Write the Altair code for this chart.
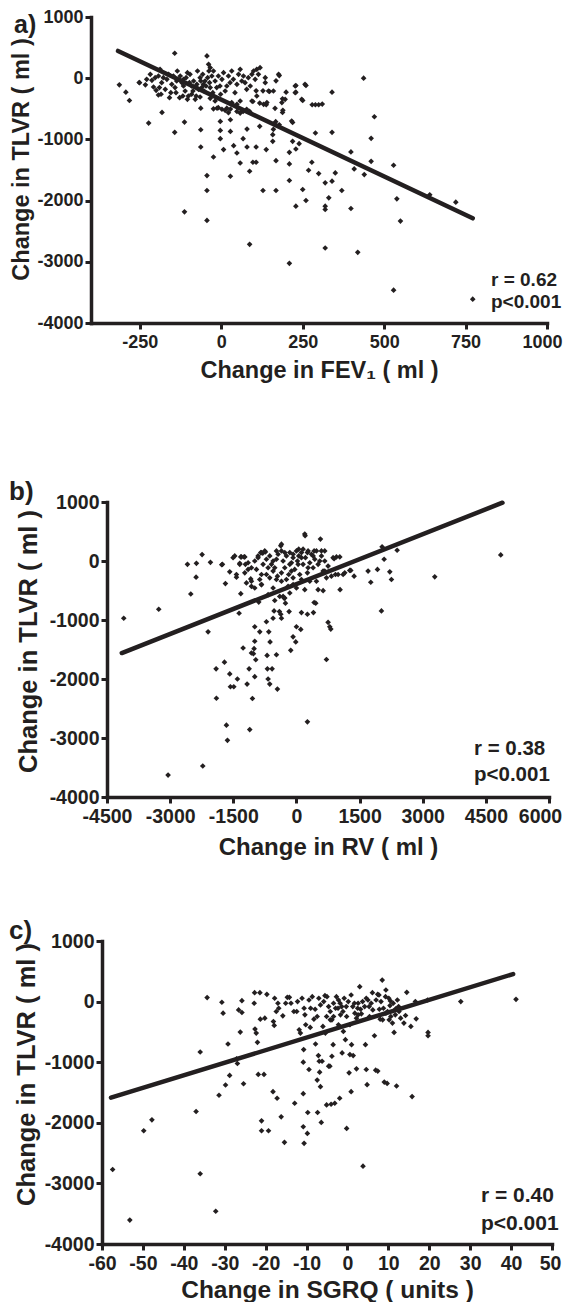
import altair as alt
import pandas as pd

FONT = "Liberation Sans"
INK = "#231f20"

# ---------------- data ----------------
# a) change in FEV1 (ml) vs change in TLVR (ml)
a_points = [
    (-313, -109), (-293, -228), (-282, -364), (-252, -71), (-233, -109), (-223, -733), (-182, -559),
    (-143, -885), (-113, -717), (-113, -2183), (-143, 407), (-63, -489), (-63, -842), (-63, -1124),
    (-44, 364), (-44, -1591), (-44, -1835), (-44, -2324), (-24, -1287), (-24, -500), (-3, -706),
    (-3, -853), (-3, -988), (7, -1167), (28, -505), (28, -679), (28, -869), (28, -1602), (38, -1102),
    (48, -1222), (58, -1385), (58, -570), (67, -988), (79, -831), (79, -1124), (87, -1520), (87, -2715),
    (97, -1374), (107, -1374), (107, -1124), (118, -787), (128, -1835), (138, -1167), (158, -1032),
    (158, -923), (168, -1347), (168, -1835), (178, -760), (188, -559), (209, -3025), (209, -1211),
    (209, -1672), (209, -1401), (219, -1032), (219, -722), (229, -2091), (229, -1157), (239, -1070),
    (250, -1819), (260, -1998), (268, -1504), (278, -1374), (289, -896), (299, -1558), (319, -1710),
    (319, -2091), (319, -2145), (319, -2775), (330, -1955), (340, -885), (340, -1683), (350, -1548),
    (370, -1835), (398, -1205), (398, -2129), (408, -1482), (419, -2845), (439, -1575), (460, -983),
    (460, -1358), (470, -630), (529, -1423), (539, -1971), (550, -2335), (529, -3464), (640, -1906),
    (720, -2025), (772, -3611), (437, 0), (340, -228), (279, -434), (289, -434), (299, -434),
    (310, -423), (250, -364), (260, -119), (229, -119), (229, -228), (188, -337), (199, -228),
    (178, 43), (168, -43), (148, -217), (138, -434), (128, -206), (107, -206), (118, -407), (97, -380),
    (87, -543), (67, -543), (48, -543), (17, -489), (-13, -489),
    (-213, -35), (-203, 9), (-208, -144), (-193, 36), (-188, 145), (-183, -73), (-178, 9), (-193, -274),
    (-185, -263), (-155, -236), (-135, 118), (-126, 36), (-128, -318), (-121, -73), (-116, -18),
    (-111, -209), (-104, 91), (-101, -291), (-96, 63), (-91, -127), (-85, -46), (-80, -345), (-73, 118),
    (-65, 9), (-60, -154), (-55, -100), (-50, -46), (-39, 227), (-34, 172), (-34, -154), (-29, 36),
    (-24, 118), (-19, -46), (-9, 36), (-4, -127), (2, -18), (7, 91), (12, -209), (22, 36), (27, -73),
    (32, 118), (37, -18), (42, -236), (53, 63), (58, 145), (63, -46), (68, 36), (78, -182), (83, 9),
    (94, 63), (99, 118), (109, 145), (119, 172), (135, 9), (135, -73), (145, -209), (160, -209), (176, 63),
    (-167, -18), (-162, 63), (-152, -100), (-147, 36), (-142, -154), (-137, -46), (-116, -127), (-108, 9),
    (-98, -73), (-87, -209), (-75, -100), (-70, -182), (-63, -46), (-57, 63), (-53, -209), (-47, -127),
    (-42, 9), (-38, 118), (-36, -73), (-26, -236), (-14, -154), (-2, -263), (17, -127), (48, -100),
    (73, -73), (89, -127), (104, -18), (114, 63), (-251, -73), (-229, -18), (-218, 63), (-200, -198),
    (-190, -154), (-172, -182), (-159, -318), (-139, -236), (-118, -291), (-104, -345), (-91, -263),
    (-77, -291), (-65, -307), (-34, -329), (-19, -372), (-9, -481), (2, -508), (12, -525), (22, -563),
    (32, -399), (48, -427), (58, -372), (78, -508), (94, -372), (109, -291), (130, -427), (140, -399),
    (186, -399), (196, -345), (227, -127), (257, -100), (247, -345), (227, -236), (165, -492),
    (189, -525), (167, -710), (160, -835), (216, -699),
]
a_fit_x = [-317, 772]
a_fit_y = [445, -2289]

# b) change in RV (ml) vs change in TLVR (ml)
b_points = [
    (-4102, -971), (-3271, -817), (-3049, -3628), (-2589, -57), (-2510, -560), (-2384, -274), (-2376, -40),
    (-2241, 109), (-2225, -3474), (-2099, -1200), (-2043, -23), (-1908, -1828), (-1901, -2326), (-1774, -63),
    (-1710, -1714), (-1687, -383), (-1663, -2783), (-1639, -3040), (-1584, -183), (-1584, -1914),
    (-1568, -2131), (-1505, 57), (-1488, -2131), (-1425, -274), (-1402, -2000), (-1362, -886), (-1346, -40),
    (-1322, -554), (-1322, 69), (-1267, -1474), (-1243, 69), (-1212, -57), (-1172, -2086), (-1148, -143),
    (-1124, -1828), (-1109, -2857), (-1085, -303), (-1069, -1560), (-1045, -2331), (-1022, -1571),
    (-1006, -1486), (-990, -1114), (-990, -1360), (-990, -1960), (-966, -1674), (-911, 86), (-895, -697),
    (-871, -1200), (-847, 143), (-831, -400), (-800, 131), (-737, 154), (-713, -1029), (-697, -1600),
    (-689, -1828), (-673, -2000), (-657, -1200), (-634, -2086), (-626, -1371), (-578, -1828), (-555, -971),
    (-531, -846), (-515, -669), (-475, -1589), (-452, -2171), (-404, -857), (-372, -903), (-372, 257),
    (-356, -971), (-317, -600), (-293, -629), (-261, -714), (-174, -857), (-135, -1514), (-80, -1286),
    (-16, -1371), (0, -1114), (103, -1160), (119, -874), (206, 429), (261, -903), (261, -2726), (404, -874),
    (420, -703), (459, -714), (570, 371), (634, -503), (673, 171), (713, -1669), (752, -1040), (792, -1114),
    (816, -1154), (895, 40), (927, -229), (1030, 69), (1037, -486), (1109, -229), (1291, -160), (1370, -257),
    (1702, -171), (1766, -360), (1925, -143), (2019, -846), (2035, 240), (2083, 29), (2218, -183),
    (2257, -314), (2392, 183), (3286, -269), (4854, 103),
    (-1307, 69), (-1227, 69), (-1346, -57), (-1148, -29), (-1069, -114), (-990, 0), (-911, 57), (-831, 143),
    (-752, 171), (-713, 29), (-634, 86), (-594, -57), (-554, -171), (-475, 29), (-436, 114), (-356, 171),
    (-356, 286), (-317, 0), (-277, -114), (-238, 86), (-182, -229), (-158, 143), (-119, -29), (-79, 57),
    (-40, -143), (0, 171), (24, 0), (55, 86), (79, -229), (119, 143), (158, -57), (198, 457), (214, 57),
    (261, -200), (277, 171), (317, -29), (356, 114), (396, -114), (436, 29), (475, 171), (515, -57),
    (594, 86), (634, -171), (673, 0), (713, -286), (752, -86), (871, 57), (950, 69), (990, -229),
    (-831, -229), (-1069, -343), (-990, -457), (-831, -400), (-634, -286), (-475, -314), (-356, -343),
    (-198, -429), (-79, -400), (119, -314), (198, -486), (317, -343), (475, -343), (515, -486),
    (-1758, -57), (-1425, -229), (-1465, 86), (-396, -600), (-277, -629), (-158, -543), (0, -457),
    (-673, -571), (-554, -457), (-1227, -200), (-1188, -371), (-1069, -429), (-673, -114), (-515, -114),
    (-356, -200), (-119, -171), (40, -57), (119, 57), (277, -114), (396, 86), (554, 0), (673, -171),
    (831, -257), (1148, -200), (1267, -160), (-713, -229), (-451, -257), (-238, -314), (-79, -286),
    (-158, -57), (-79, 114), (55, 200), (158, 200), (261, 143), (420, 171), (594, 171), (-277, 143),
    (-475, 171), (-554, 0), (-792, -57), (-950, -143), (-871, -314),
]
b_fit_x = [-4149, 4895]
b_fit_y = [-1560, 988]

# c) change in SGRQ (units) vs change in TLVR (ml)
c_points = [
    (-57.4, -2770), (-53.2, -3606), (-49.8, -2131), (-47.8, -1951), (-37.0, -1814), (-36.0, -831),
    (-36.0, -2841), (-34.3, 66), (-32.2, -3459), (-31.4, -1546), (-30.7, -11), (-30.4, -191), (-29.8, -1377),
    (-29.2, -699), (-28.8, -1218), (-27.1, -945), (-26.9, -1022), (-26.6, -137), (-26.2, -503), (-25.8, 16),
    (-25.8, -180), (-25.4, -1355), (-22.8, -27), (-22.7, 148), (-22.6, -454), (-22.3, -519), (-22.0, -672),
    (-21.8, -1202), (-21.4, 148), (-21.3, -290), (-21.0, -1967), (-21.0, -2131), (-20.4, -1202),
    (-20.2, -273), (-19.7, 120), (-19.3, -2131), (-18.2, -1486), (-18.1, -328), (-17.9, -393), (-17.8, 55),
    (-17.4, -164), (-17.2, -1595), (-16.8, -109), (-16.2, -1902), (-15.8, -235), (-15.4, -2322),
    (-15.1, -27), (-14.7, 71), (-14.2, 71), (-13.1, -164), (-12.9, -1677), (-12.4, -164), (-11.8, -464),
    (-11.5, -519), (-11.1, 55), (-10.8, -1519), (-10.8, -2065), (-10.6, -2339), (-10.7, -792),
    (-10.8, -1000), (-10.6, -109), (-10.4, -219), (-10.2, -382), (-9.8, -2175), (-9.7, -1830),
    (-9.4, -1120), (-9.1, -426), (-8.6, 82), (-8.2, -290), (-7.9, -126), (-7.8, -699), (-7.4, -1295),
    (-7.3, -1830), (-7.1, -891), (-6.9, -984), (-6.8, -1164), (-6.6, -1404), (-6.4, -1994), (-6.2, -984),
    (-6.0, -410), (-5.5, 98), (-5.4, -519), (-5.1, -1705), (-5.0, 82), (-4.6, -1066), (-4.3, -1066),
    (-4.0, -1694), (-3.8, -902), (-3.8, -301), (-3.5, -710), (-3.1, -1677), (-2.9, -109), (-2.7, 82),
    (-2.2, 27), (-1.9, -1595), (-1.7, -219), (-1.4, -82), (-1.3, -847), (-1.0, -492), (-0.8, 55),
    (-0.5, -628), (-0.2, -2093), (0.4, -1175), (0.6, -874), (0.9, 109), (0.9, -1486), (1.0, -710),
    (1.4, -891), (1.7, -27), (2.2, -1109), (2.5, -109), (3.0, 246), (3.4, -202), (3.8, -2716), (4.4, -710),
    (4.6, -1120), (4.8, -1371), (5.0, 27), (5.3, -82), (6.1, 148), (6.6, -563), (6.9, -1131), (7.4, -1147),
    (7.4, 120), (7.8, -126), (8.0, -290), (8.5, 355), (9.0, -1328), (9.4, 191), (9.7, -1350), (10.1, 55),
    (10.4, -66), (11.0, -355), (11.4, -508), (11.8, -120), (12.0, -1393), (12.2, 27), (12.6, -164),
    (13.8, -355), (14.2, -229), (14.5, 153), (15.5, -410), (15.8, -1568), (16.6, 0), (16.8, -284),
    (19.6, 27), (19.7, -508), (19.7, -563), (27.7, 0), (41.2, 38),
    (-6.6, -55), (-5.8, 0), (-4.6, -82), (-4.2, -164), (-3.4, -27), (-2.3, -109), (-1.8, -27), (-1.1, -164),
    (-0.3, -82), (0.2, 0), (1.3, -82), (1.8, -191), (2.6, -27), (3.2, -126), (3.7, 0), (4.2, -82),
    (4.6, 55), (5.8, -27), (6.2, -137), (7.0, 27), (7.7, 109), (8.2, 0), (8.8, -109), (9.3, 82),
    (9.8, -164), (10.6, -246), (11.2, -27), (11.7, -219), (12.5, -82), (13.0, -273), (-9.0, -109),
    (-7.4, -246), (-3.4, -246), (-0.2, -246), (2.2, -273), (5.4, -246), (8.6, -301), (9.4, -191),
    (10.2, -301), (10.5, 11), (-4.2, -301), (-5.1, -246), (-2.2, -382), (0.6, -382), (2.6, -219),
    (-12.2, 0), (-13.8, -27), (-17.0, -27), (-9.4, 27), (-7.0, 55),
]
c_fit_x = [-57.8, 40.5]
c_fit_y = [-1586, 455]

y_ticks = [-4000, -3000, -2000, -1000, 0, 1000]
a_x_ticks = [-250, 0, 250, 500, 750, 1000]
b_x_ticks = [-4500, -3000, -1500, 0, 1500, 3000, 4500, 6000]
c_x_ticks = [-60, -50, -40, -30, -20, -10, 0, 10, 20, 30, 40, 50]


def panel(points, fit_x, fit_y, xdom, xticks, xtitle, ytitle, label, stats, lay):
    pts = pd.DataFrame(points, columns=["x", "y"])
    fit = pd.DataFrame({"x": fit_x, "y": fit_y})
    one = pd.DataFrame({"k": [0]})

    common = dict(
        domainColor=INK, domainWidth=3.5, domainCap="square",
        tickColor=INK, tickWidth=3, tickSize=6,
        labelColor=INK, labelFont=FONT, labelFontWeight="bold", labelFontSize=lay["tick_fs"],
        labelExpr="'' + datum.value", labelOverlap=False, labelFlush=False,
        titleColor=INK, titleFont=FONT, titleFontWeight="bold",
        titleBaseline="alphabetic", grid=False,
    )
    last = xticks[-1]
    xaxis = alt.Axis(
        values=xticks, title=xtitle, labelPadding=4, titleY=lay["xtitle_y"],
        titleFontSize=lay["title_fs"],
        labelOffset={"condition": {"test": f"datum.value == {last}", "value": lay["last_shift"]}, "value": 0},
        **common,
    )
    yaxis = alt.Axis(values=y_ticks, title=ytitle, labelPadding=2, titleX=lay["ytitle_x"],
                     titleY=lay["ytitle_y"], titleAlign="center", titleAngle=270,
                     titleFontSize=lay["ytitle_fs"], offset=-lay["x_range"][0], **common)

    xs = alt.Scale(domain=xdom, nice=False, zero=False, range=lay["x_range"])
    ys = alt.Scale(domain=[-4000, 1000], nice=False, zero=False, range=lay["y_range"])

    dots = alt.Chart(pts).mark_point(shape="diamond", filled=True, size=32, color=INK, opacity=1).encode(
        x=alt.X("x:Q", scale=xs, axis=xaxis),
        y=alt.Y("y:Q", scale=ys, axis=yaxis),
    )
    line = alt.Chart(fit).mark_line(color=INK, strokeWidth=4.5, strokeCap="round").encode(
        x=alt.X("x:Q", scale=xs), y=alt.Y("y:Q", scale=ys)
    )
    lab = alt.Chart(one).mark_text(
        text=label, font=FONT, fontWeight="bold", fontSize=lay["lab_fs"], color=INK,
        align="left", baseline="alphabetic",
    ).encode(x=alt.value(lay["lab_x"]), y=alt.value(lay["lab_y"]))
    layers = [dots, line, lab]
    for txt, yy in zip(stats, lay["stat_y"]):
        layers.append(alt.Chart(one).mark_text(
            text=txt, font=FONT, fontWeight="bold", fontSize=lay["stat_fs"], color=INK,
            align="left", baseline="alphabetic",
        ).encode(x=alt.value(lay["stat_x"]), y=alt.value(yy)))
    return alt.layer(*layers).properties(width=lay["w"], height=lay["h"])


pa = panel(a_points, a_fit_x, a_fit_y, [-400, 1000], a_x_ticks, "Change in FEV\u2081 ( ml )",
           "Change in TLVR ( ml )", "a)", ["r = 0.62", "p<0.001"],
           dict(w=456, h=306, x_range=[0, 456], y_range=[306, 0], last_shift=-5,
                tick_fs=18, title_fs=23.5, ytitle_fs=23.5, xtitle_y=54, ytitle_x=-63, ytitle_y=142,
                lab_fs=25, lab_x=-77, lab_y=16, stat_fs=19, stat_x=400, stat_y=[269, 291]))
pb = panel(b_points, b_fit_x, b_fit_y, [-4500, 6000], b_x_ticks, "Change in RV  ( ml  )",
           "Change in TLVR  ( ml  )", "b)", ["r = 0.38", "p<0.001"],
           dict(w=458, h=330, x_range=[16, 458], y_range=[330, 35], last_shift=-9,
                tick_fs=19.5, title_fs=24, ytitle_fs=25.5, xtitle_y=57, ytitle_x=-71, ytitle_y=174,
                lab_fs=26, lab_x=-82, lab_y=33, stat_fs=20.5, stat_x=383, stat_y=[288, 314]))
pc = panel(c_points, c_fit_x, c_fit_y, [-60, 50], c_x_ticks, "Change in SGRQ  ( units  )",
           "Change in TLVR  ( ml  )", "c)", ["r = 0.40", "p<0.001"],
           dict(w=461, h=303, x_range=[11, 461], y_range=[303, 0], last_shift=-2,
                tick_fs=19.5, title_fs=24.5, ytitle_fs=25.5, xtitle_y=53, ytitle_x=-68, ytitle_y=133,
                lab_fs=26, lab_x=-82, lab_y=-2, stat_fs=21, stat_x=390, stat_y=[261, 289]))

chart = alt.vconcat(pa, pb, pc, spacing=144, bounds="flush").properties(
    padding={"left": 0, "top": 0, "right": 0, "bottom": 0}
).configure_view(stroke=None)

chart.save("out.html", embed_options={"renderer": "svg", "actions": False})
